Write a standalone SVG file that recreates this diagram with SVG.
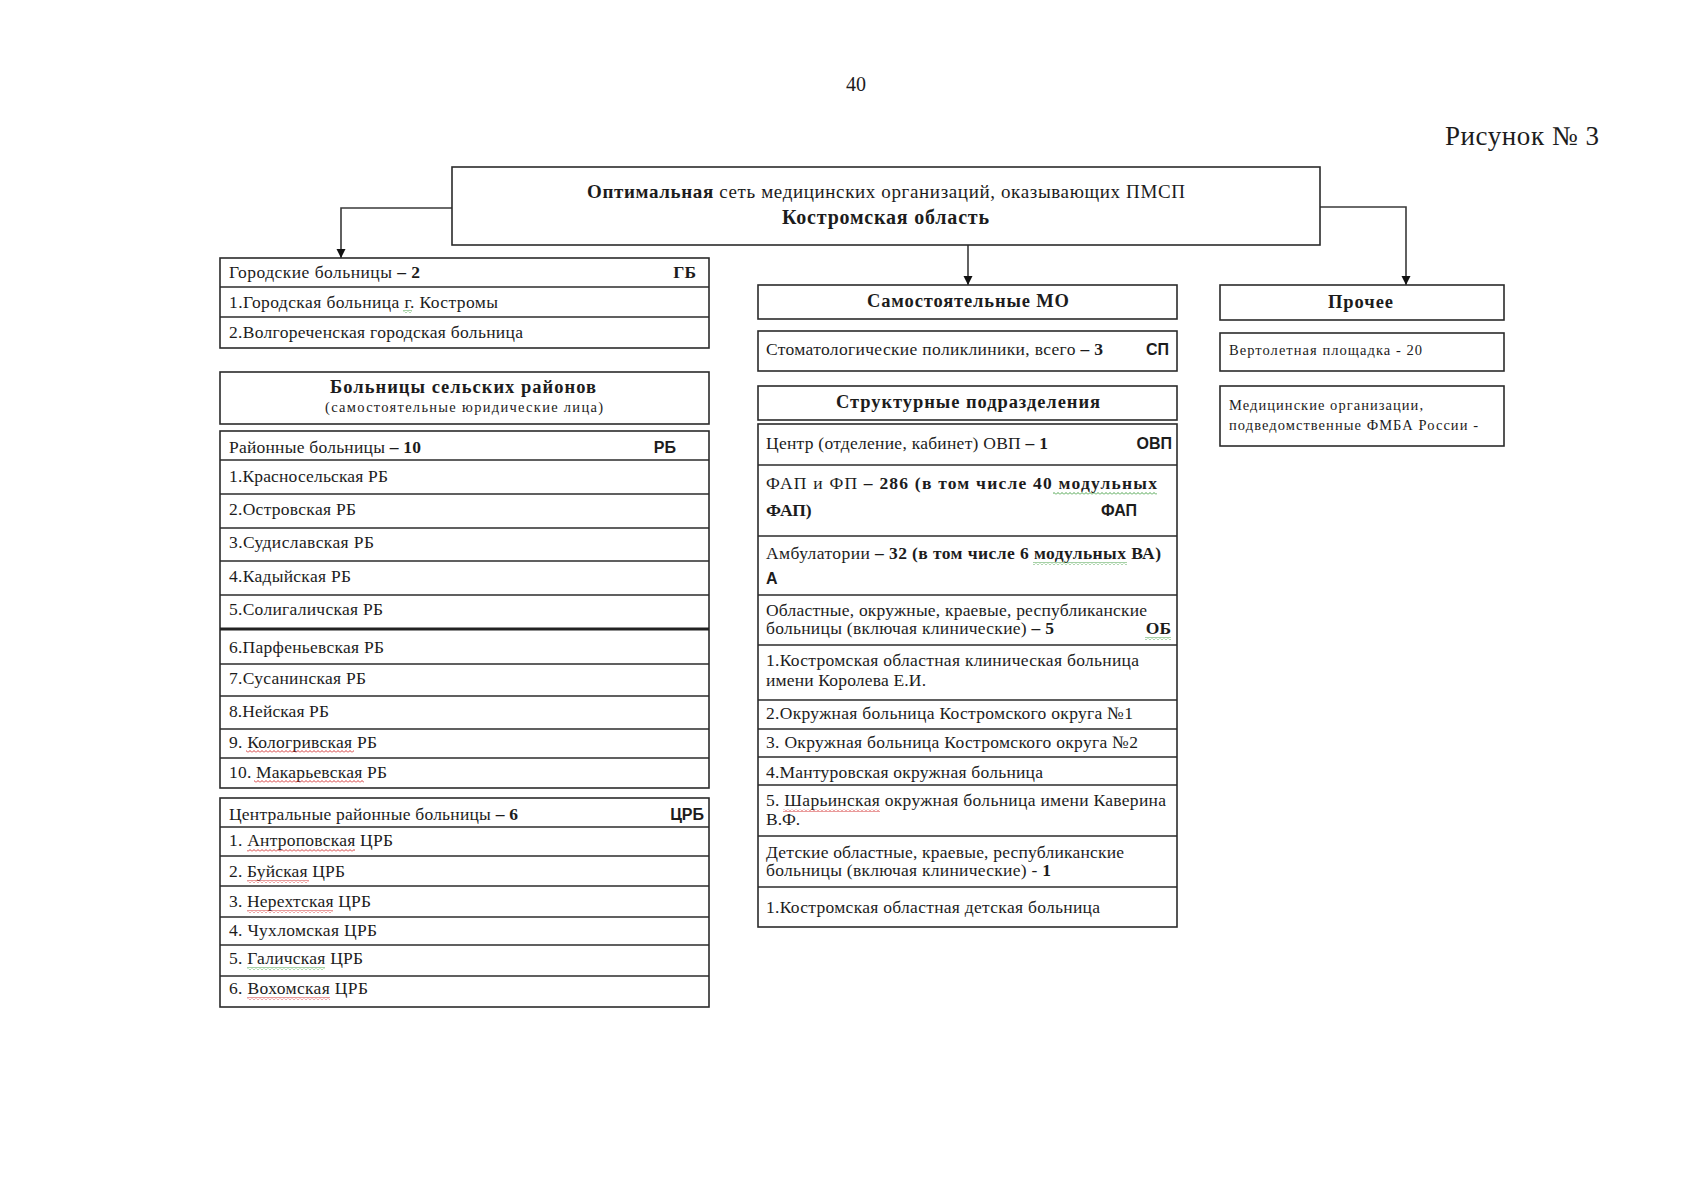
<svg xmlns="http://www.w3.org/2000/svg" width="1697" height="1200" viewBox="0 0 1697 1200">
<style>
.box{fill:#fff;stroke:#2b2b2b;stroke-width:1.6}
.ln{stroke:#2b2b2b;stroke-width:1.4}
.thick{stroke:#222;stroke-width:3}
.t{font-family:"Liberation Serif","Times New Roman",serif;font-size:17.5px;fill:#1c1c1c}
.sm{font-size:14.5px}
.b{font-weight:bold}
.hb{font-size:18.5px}
.ab{font-family:"Liberation Sans",Arial,sans-serif;font-weight:bold;font-size:16px;fill:#1c1c1c}
.conn{stroke:#3a3a3a;stroke-width:1.6;fill:none;marker-end:url(#arr)}
.sqr{fill:url(#sqR)}
.sqg{fill:url(#sqG)}
</style>
<defs>
<marker id="arr" markerUnits="userSpaceOnUse" markerWidth="10" markerHeight="10" refX="9" refY="4.5" orient="auto">
<path d="M0,0 L9,4.5 L0,9 z" fill="#111"/>
</marker>
<pattern id="sqR" patternUnits="userSpaceOnUse" width="4" height="3">
<path d="M0,2.5 L2,0.5 L4,2.5" fill="none" stroke="#d02020" stroke-width="0.9"/>
</pattern>
<pattern id="sqG" patternUnits="userSpaceOnUse" width="4" height="3">
<path d="M0,2.5 L2,0.5 L4,2.5" fill="none" stroke="#3a9a3a" stroke-width="0.9"/>
</pattern>
</defs>
<rect width="1697" height="1200" fill="#fff"/>

<text class="t" x="856" y="91" text-anchor="middle" style="font-size:20px">40</text>
<text class="t" x="1445" y="145" style="font-size:27px" textLength="154">Рисунок № 3</text>

<g id="connectors">
<path class="conn" d="M452,208 H341 V258"/>
<path class="conn" d="M968,245 V285"/>
<path class="conn" d="M1320,207 H1406 V285"/>
</g>

<g id="root">
<rect class="box" x="452" y="167" width="868" height="78"/>
<text class="t" x="587" y="198" style="font-size:19px" textLength="598"><tspan class="b">Оптимальная</tspan> сеть медицинских организаций, оказывающих ПМСП</text>
<text class="t b" x="782" y="224" style="font-size:20px" textLength="207">Костромская область</text>
</g>

<g id="city-hospitals">
<rect class="box" x="220" y="258" width="489" height="90"/>
<line class="ln" x1="220" y1="287" x2="709" y2="287"/>
<line class="ln" x1="220" y1="317" x2="709" y2="317"/>
<text class="t" x="229" y="278" textLength="191">Городские больницы  <tspan class="b">– 2</tspan></text>
<text class="t b" x="696" y="278" text-anchor="end">ГБ</text>
<text class="t" x="229" y="308" textLength="269">1.Городская больница г. Костромы</text>
<text class="t" x="229" y="338" textLength="294">2.Волгореченская городская больница</text>
<rect class="sqg" x="403" y="310" width="9" height="3"/>
</g>

<g id="rural-header">
<rect class="box" x="220" y="372" width="489" height="52"/>
<text class="t b hb" x="330" y="393" textLength="266">Больницы сельских районов</text>
<text class="t sm" x="325" y="412" textLength="278">(самостоятельные юридические лица)</text>
</g>

<g id="district-hospitals">
<rect class="box" x="220" y="431" width="489" height="357"/>
<line class="ln" x1="220" y1="460" x2="709" y2="460"/>
<line class="ln" x1="220" y1="494" x2="709" y2="494"/>
<line class="ln" x1="220" y1="528" x2="709" y2="528"/>
<line class="ln" x1="220" y1="561" x2="709" y2="561"/>
<line class="ln" x1="220" y1="595" x2="709" y2="595"/>
<line class="thick" x1="220" y1="629" x2="709" y2="629"/>
<line class="ln" x1="220" y1="664" x2="709" y2="664"/>
<line class="ln" x1="220" y1="696" x2="709" y2="696"/>
<line class="ln" x1="220" y1="729" x2="709" y2="729"/>
<line class="ln" x1="220" y1="758" x2="709" y2="758"/>
<text class="t" x="229" y="453" textLength="192">Районные больницы <tspan class="b">– 10</tspan></text>
<text class="ab" x="676" y="453" text-anchor="end">РБ</text>
<text class="t" x="229" y="482" textLength="159">1.Красносельская РБ</text>
<text class="t" x="229" y="515" textLength="127">2.Островская РБ</text>
<text class="t" x="229" y="548" textLength="145">3.Судиславская РБ</text>
<text class="t" x="229" y="582" textLength="122">4.Кадыйская РБ</text>
<text class="t" x="229" y="615" textLength="154">5.Солигаличская РБ</text>
<text class="t" x="229" y="653" textLength="155">6.Парфеньевская РБ</text>
<text class="t" x="229" y="684" textLength="137">7.Сусанинская  РБ</text>
<text class="t" x="229" y="717" textLength="100">8.Нейская РБ</text>
<text class="t" x="229" y="748" textLength="148">9. Кологривская РБ</text>
<text class="t" x="229" y="778" textLength="158">10. Макарьевская РБ</text>
<rect class="sqr" x="246" y="750" width="108" height="3"/>
<rect class="sqr" x="254" y="780" width="110" height="3"/>
</g>

<g id="central-district-hospitals">
<rect class="box" x="220" y="798" width="489" height="209"/>
<line class="ln" x1="220" y1="827" x2="709" y2="827"/>
<line class="ln" x1="220" y1="856" x2="709" y2="856"/>
<line class="ln" x1="220" y1="886" x2="709" y2="886"/>
<line class="ln" x1="220" y1="917" x2="709" y2="917"/>
<line class="ln" x1="220" y1="945" x2="709" y2="945"/>
<line class="ln" x1="220" y1="976" x2="709" y2="976"/>
<text class="t" x="229" y="820" textLength="289">Центральные районные  больницы <tspan class="b">– 6</tspan></text>
<text class="ab" x="704" y="820" text-anchor="end">ЦРБ</text>
<text class="t" x="229" y="846" textLength="164">1. Антроповская ЦРБ</text>
<text class="t" x="229" y="877" textLength="116">2. Буйская ЦРБ</text>
<text class="t" x="229" y="907" textLength="142">3. Нерехтская ЦРБ</text>
<text class="t" x="229" y="936" textLength="148">4. Чухломская ЦРБ</text>
<text class="t" x="229" y="964" textLength="134">5. Галичская ЦРБ</text>
<text class="t" x="229" y="994" textLength="139">6. Вохомская ЦРБ</text>
<rect class="sqr" x="247" y="849" width="108" height="3"/>
<rect class="sqr" x="247" y="880" width="62" height="3"/>
<rect class="sqr" x="247" y="910" width="86" height="3"/>
<rect class="sqg" x="247" y="967" width="78" height="3"/>
<rect class="sqr" x="247" y="997" width="83" height="3"/>
</g>

<g id="independent-mo">
<rect class="box" x="758" y="285" width="419" height="34"/>
<text class="t b hb" x="867" y="307" textLength="202">Самостоятельные МО</text>
</g>

<g id="dental">
<rect class="box" x="758" y="331" width="419" height="40"/>
<text class="t" x="766" y="355" textLength="337">Стоматологические поликлиники, всего <tspan class="b">– 3</tspan></text>
<text class="ab" x="1169" y="355" text-anchor="end">СП</text>
</g>

<g id="structural-header">
<rect class="box" x="758" y="386" width="419" height="34"/>
<text class="t b hb" x="836" y="408" textLength="264">Структурные подразделения</text>
</g>

<g id="structural-table">
<rect class="box" x="758" y="424" width="419" height="503"/>
<line class="ln" x1="758" y1="465" x2="1177" y2="465"/>
<line class="ln" x1="758" y1="536" x2="1177" y2="536"/>
<line class="ln" x1="758" y1="595" x2="1177" y2="595"/>
<line class="ln" x1="758" y1="645" x2="1177" y2="645"/>
<line class="ln" x1="758" y1="700" x2="1177" y2="700"/>
<line class="ln" x1="758" y1="729" x2="1177" y2="729"/>
<line class="ln" x1="758" y1="757" x2="1177" y2="757"/>
<line class="ln" x1="758" y1="785" x2="1177" y2="785"/>
<line class="ln" x1="758" y1="836" x2="1177" y2="836"/>
<line class="ln" x1="758" y1="887" x2="1177" y2="887"/>
<text class="t" x="766" y="449" textLength="282">Центр (отделение, кабинет)  ОВП <tspan class="b">– 1</tspan></text>
<text class="ab" x="1172" y="449" text-anchor="end">ОВП</text>
<text class="t" x="766" y="489" textLength="391">ФАП и ФП <tspan class="b">– 286 (в том числе 40 модульных</tspan></text>
<text class="t b" x="766" y="516">ФАП)</text>
<text class="ab" x="1137" y="516" text-anchor="end">ФАП</text>
<text class="t" x="766" y="559" textLength="395">Амбулатории <tspan class="b">– 32 (в том числе 6 модульных ВА)</tspan></text>
<text class="ab" x="766" y="584">А</text>
<text class="t" x="766" y="616" textLength="381">Областные, окружные, краевые, республиканские</text>
<text class="t" x="766" y="634" textLength="288">больницы (включая клинические)  <tspan class="b">– 5</tspan></text>
<text class="t b" x="1171" y="634" text-anchor="end">ОБ</text>
<text class="t" x="766" y="666" textLength="373">1.Костромская областная  клиническая  больница</text>
<text class="t" x="766" y="686" textLength="160">имени Королева Е.И.</text>
<text class="t" x="766" y="719" textLength="367">2.Окружная больница Костромского округа №1</text>
<text class="t" x="766" y="748" textLength="372">3. Окружная больница Костромского округа №2</text>
<text class="t" x="766" y="778" textLength="277">4.Мантуровская окружная больница</text>
<text class="t" x="766" y="806" textLength="400">5. Шарьинская окружная  больница имени Каверина</text>
<text class="t" x="766" y="825">В.Ф.</text>
<text class="t" x="766" y="858" textLength="358">Детские областные,  краевые, республиканские</text>
<text class="t" x="766" y="876" textLength="285">больницы (включая клинические)  - <tspan class="b">1</tspan></text>
<text class="t" x="766" y="913" textLength="334">1.Костромская областная  детская больница</text>
<rect class="sqg" x="1053" y="492" width="104" height="3"/>
<rect class="sqg" x="1033" y="562" width="94" height="3"/>
<rect class="sqg" x="1145" y="637" width="26" height="3"/>
<rect class="sqr" x="783" y="809" width="97" height="3"/>
</g>

<g id="other">
<rect class="box" x="1220" y="285" width="284" height="35"/>
<text class="t b hb" x="1328" y="308" textLength="65">Прочее</text>
</g>

<g id="helipad">
<rect class="box" x="1220" y="333" width="284" height="38"/>
<text class="t sm" x="1229" y="355" textLength="193">Вертолетная площадка - 20</text>
</g>

<g id="fmba">
<rect class="box" x="1220" y="386" width="284" height="60"/>
<text class="t sm" x="1229" y="410" textLength="194">Медицинские организации,</text>
<text class="t sm" x="1229" y="430" textLength="249">подведомственные ФМБА России -</text>
</g>
</svg>
